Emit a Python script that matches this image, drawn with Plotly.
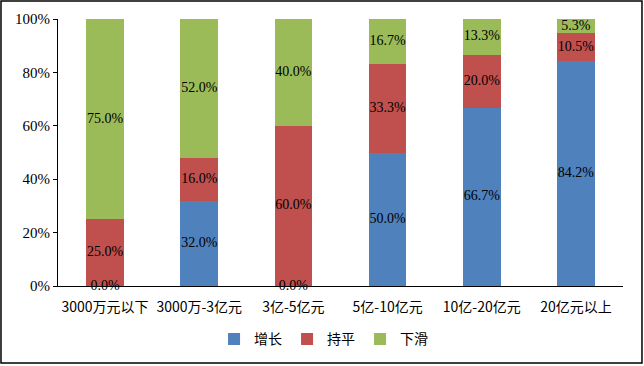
import plotly.graph_objects as go

categories = ["3000万元以下", "3000万-3亿元", "3亿-5亿元", "5亿-10亿元", "10亿-20亿元", "20亿元以上"]
series_names = ["增长", "持平", "下滑"]
growth = [0.0, 32.0, 0.0, 50.0, 66.7, 84.2]
flat = [25.0, 16.0, 60.0, 33.3, 20.0, 10.5]
decline = [75.0, 52.0, 40.0, 16.7, 13.3, 5.3]
colors = ["#4F81BD", "#C0504D", "#9BBB59"]
y_ticks = [0, 20, 40, 60, 80, 100]

font_main = "Liberation Serif, Times New Roman, Noto Sans CJK SC, serif"
font_cjk = "Noto Sans CJK SC, sans-serif"

fig = go.Figure()
series = [growth, flat, decline]
for name, vals, col in zip(series_names, series, colors):
    fig.add_trace(go.Bar(x=categories, y=vals, name=name, marker_color=col,
                         marker_line_width=0, width=0.4))

# labels at the middle of each segment
base = [0.0] * len(categories)
tx, ty, tt = [], [], []
for vals in series:
    for i, v in enumerate(vals):
        tx.append(categories[i])
        ty.append(base[i] + v / 2)
        tt.append(f"{v:.1f}%")
        base[i] += v
fig.add_trace(go.Scatter(x=tx, y=ty, text=tt, mode="text", showlegend=False,
                         textfont=dict(family=font_main, size=14, color="#000000"),
                         hoverinfo="skip", cliponaxis=False))

fig.update_layout(
    barmode="stack",
    bargap=0.6,
    width=644, height=366,
    margin=dict(l=58, r=21, t=19, b=80, autoexpand=False),
    plot_bgcolor="white", paper_bgcolor="white",
    font=dict(family=font_main, size=14, color="#000000"),
    legend=dict(orientation="h", x=0.47, xanchor="center", y=-0.2, yanchor="middle",
                font=dict(family=font_cjk, size=14),
                itemwidth=30, traceorder="normal", tracegroupgap=0),
    showlegend=True,
)
fig.update_yaxes(range=[0, 100], tickvals=y_ticks, ticktext=[f"{t}%" for t in y_ticks],
                 showline=True, linecolor="#000000", linewidth=1, ticks="outside",
                 ticklen=4, tickcolor="#000000", showgrid=False, zeroline=False,
                 tickfont=dict(family=font_main, size=15))
fig.update_xaxes(showline=True, linecolor="#000000", linewidth=1, ticks="",
                 showgrid=False, ticklabelstandoff=8,
                 tickfont=dict(family=font_cjk, size=14))

# outer border
fig.add_shape(type="rect", xref="paper", yref="paper",
              x0=-0.1009, x1=1.0336, y0=-0.2884, y1=1.0674,
              line=dict(color="#000000", width=1.5), fillcolor="rgba(0,0,0,0)")

fig.write_html("out.html", config={"displayModeBar": False},
               post_script="document.body.style.margin='0px';")
